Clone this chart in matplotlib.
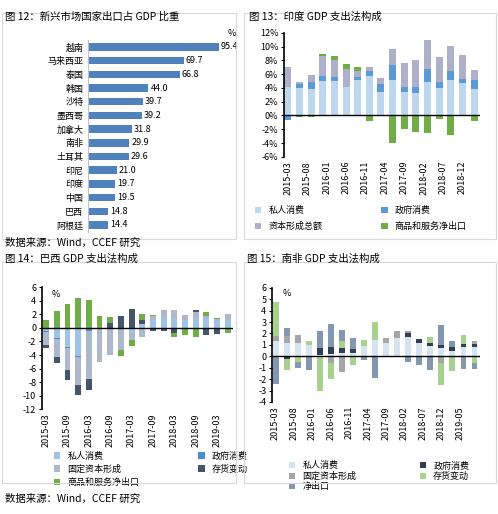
import numpy as np
import matplotlib.pyplot as plt
from matplotlib.patches import Rectangle

plt.rcParams['font.family'] = ['Noto Sans CJK SC', 'DejaVu Sans']
plt.rcParams['font.size'] = 6.5

# Figure 12 data
countries = ['越南', '马来西亚', '泰国', '韩国', '沙特', '墨西哥', '加拿大', '南非', '土耳其',
             '印尼', '印度', '中国', '巴西', '阿根廷']
export_share = [95.4, 69.7, 66.8, 44.0, 39.7, 39.2, 31.8, 29.9, 29.6, 21.0, 19.7, 19.5, 14.8, 14.4]

# India (quarterly, month index months on axis)
india_labels = ['2015-03', '2015-08', '2016-01', '2016-06', '2016-11', '2017-04',
                '2017-09', '2018-02', '2018-07', '2018-12']
india_pc = [4.2, 4.0, 3.9, 5.0, 5.0, 4.1, 5.2, 5.8, 3.4, 5.2, 3.4, 3.2, 4.9, 4.0, 5.2, 4.7, 3.9]
india_gov = [-0.6, 0.6, 1.0, 0.8, 0.6, 0.1, 0.4, 0.6, 1.2, 2.2, 0.8, 0.9, 1.8, 0.9, 1.2, 0.6, 1.3]
india_cap = [2.8, 0.3, 1.0, 2.8, 2.4, 2.6, 0.8, 0.6, 0.8, 2.2, 3.4, 3.9, 4.3, 3.6, 3.7, 3.5, 1.4]
india_ne = [0.0, -0.2, -0.2, 0.4, 0.6, 0.7, 0.6, -0.8, 0.0, -4.0, -2.0, -2.4, -2.6, -0.5, -2.8, -0.1, -0.8]

# Brazil (quarterly)
brazil_labels = ['2015-03', '2015-09', '2016-03', '2016-09', '2017-03', '2017-09',
                 '2018-03', '2018-09', '2019-03']
brazil_pc = [-0.5, -1.5, -2.8, -4.2, -0.2, -0.1, -0.2, -0.2, -0.8, 0.6, 1.2, 1.5, 1.5, 1.2, 1.5, 1.4, 1.0, 1.2]
brazil_gov = [-0.1, -0.1, -0.1, -0.1, -0.2, 0.0, 0.0, 0.0, 0.0, 0.0, 0.0, 0.0, 0.0, 0.0, 0.0, 0.0, 0.0, 0.0]
brazil_gfcf = [-1.9, -2.7, -3.3, -4.2, -7.2, -4.9, -3.8, -3.0, -1.0, -1.4, 0.5, 1.2, 1.1, 0.7, 0.8, 0.3, 0.3, 0.8]
brazil_inv = [-0.4, -0.9, -1.5, -1.4, -1.6, 0.0, 0.7, 1.8, 2.8, 0.6, -0.5, -0.4, -0.8, -0.1, 0.3, -1.1, -0.9, 0.0]
brazil_ne = [1.2, 2.5, 3.5, 4.4, 4.2, 1.8, 0.9, -1.0, -0.9, 0.9, 0.2, 0.0, -0.5, -1.0, -1.3, 0.6, 0.2, -0.8]

# South Africa (quarterly, month axis)
sa_labels = ['2015-03', '2015-08', '2016-01', '2016-06', '2016-11', '2017-04',
             '2017-09', '2018-02', '2018-07', '2018-12', '2019-05']
sa_pc = [1.3, 1.2, 1.2, 1.0, 0.1, 0.2, 0.3, 0.3, 0.9, 1.4, 1.2, 1.6, 1.7, 1.2, 0.9, 0.7, 0.5, 0.8, 0.8]
sa_gov = [-0.1, -0.2, 0.0, 0.0, 0.6, 0.6, 0.4, 0.3, 0.0, 0.0, 0.0, 0.0, 0.3, 0.3, 0.3, 0.3, 0.3, 0.3, 0.3]
sa_gfcf = [0.5, 0.6, 0.7, 0.0, 0.0, -0.6, -1.4, 0.0, 0.0, 0.0, 0.4, 0.6, 0.2, 0.0, 0.0, -0.6, 0.0, 0.0, 0.2]
sa_inv = [3.0, -1.0, -0.5, 0.3, -3.0, -1.4, 0.6, -0.8, 0.5, 1.6, -0.1, 0.0, 0.0, 0.0, 0.5, -1.9, -1.3, 0.8, -0.6]
sa_ne = [-2.3, 0.7, -0.5, -1.2, 1.5, 2.0, 1.0, 1.0, -0.3, -1.9, 0.0, 0.0, -0.5, -0.8, -1.2, 1.7, 0.5, -1.1, -0.5]


def stacked(ax, x, series, colors, labels, width):
    pos = np.zeros(len(x))
    neg = np.zeros(len(x))
    for vals, c, lab in zip(series, colors, labels):
        v = np.array(vals)
        base = np.where(v >= 0, pos, neg)
        ax.bar(x, v, width, bottom=base, color=c, label=lab)
        pos = pos + np.where(v >= 0, v, 0)
        neg = neg + np.where(v < 0, v, 0)


def style(ax, ylim, yticks, fmt, ticks, ticklabels, xlim):
    ax.set_ylim(*ylim)
    ax.set_xlim(*xlim)
    ax.set_yticks(yticks)
    ax.set_yticklabels([fmt(t) for t in yticks])
    ax.set_xticks(ticks)
    ax.set_xticklabels(ticklabels, rotation=90)
    ax.tick_params(axis='x', length=0, pad=3)
    ax.tick_params(axis='y', length=2, pad=2)
    for s in ['top', 'right', 'bottom']:
        ax.spines[s].set_visible(False)
    ax.spines['left'].set_linewidth(1.2)
    ax.axhline(0, color='black', lw=1)


def rowwise_legend(ax, anchor, colsp, lsp):
    h, l = ax.get_legend_handles_labels()
    order = list(range(0, len(h), 2)) + list(range(1, len(h), 2))
    ax.legend([h[i] for i in order], [l[i] for i in order], loc='upper left',
              bbox_to_anchor=anchor, ncol=2, frameon=False, handlelength=0.7,
              handleheight=0.7, columnspacing=colsp, fontsize=6.5, labelspacing=lsp,
              borderpad=0)


fig = plt.figure(figsize=(4.98, 5.14), dpi=100)

# panel frames
for (x0, y0, w, h) in [(0.004, 0.535, 0.47, 0.44), (0.49, 0.535, 0.505, 0.44),
                       (0.004, 0.06, 0.47, 0.43), (0.49, 0.06, 0.505, 0.43)]:
    fig.patches.append(Rectangle((x0, y0), w, h, transform=fig.transFigure,
                                 fill=False, ec='#d9d9d9', lw=0.8))

# Figure 12
ax1 = fig.add_axes([0.177, 0.549, 0.275, 0.373])
y = np.arange(len(countries))
ax1.barh(y, export_share, 0.55, color='#4f81bd')
for yi, v in zip(y, export_share):
    ax1.text(v + 1.5, yi, f'{v:.1f}', va='center', fontsize=6.5)
ax1.set_yticks(y)
ax1.set_yticklabels(countries)
ax1.set_xlim(0, 100)
ax1.set_ylim(len(countries) - 0.5, -0.5)
ax1.set_xticks([])
ax1.tick_params(axis='y', length=0)
for s in ['top', 'right', 'bottom']:
    ax1.spines[s].set_visible(False)
ax1.spines['left'].set_color('#bfbfbf')
ax1.text(1.02, 1.02, '%', transform=ax1.transAxes, fontsize=6.5)
fig.text(0.01, 0.968, '图 12：新兴市场国家出口占 GDP 比重', fontsize=7.5, va='center')
fig.text(0.01, 0.527, '数据来源：Wind，CCEF 研究', fontsize=7.5, va='center')

# Figure 13 India
ax2 = fig.add_axes([0.57, 0.695, 0.394, 0.241])
xi = np.arange(len(india_pc)) * 3
stacked(ax2, xi, [india_pc, india_gov, india_cap, india_ne],
        ['#bdd7ee', '#5b9bd5', '#adb0c8', '#70ad47'],
        ['私人消费', '政府消费', '资本形成总额', '商品和服务净出口'], 1.8)
style(ax2, (-6, 12), np.arange(-6, 13, 2), lambda t: f'{t}%',
      np.arange(len(india_labels)) * 5, india_labels, (-1, xi[-1] + 1.5))
rowwise_legend(ax2, (-0.17, -0.36), 6.5, 0.8)
fig.text(0.5, 0.968, '图 13：印度 GDP 支出法构成', fontsize=7.5, va='center')

# Figure 14 Brazil
ax3 = fig.add_axes([0.084, 0.204, 0.384, 0.237])
xb = np.arange(len(brazil_pc))
stacked(ax3, xb, [brazil_pc, brazil_gov, brazil_gfcf, brazil_inv, brazil_ne],
        ['#9dc3e6', '#4a8ccc', '#adb9ca', '#44546a', '#70ad47'],
        ['私人消费', '政府消费', '固定资本形成', '存货变动', '商品和服务净出口'], 0.55)
style(ax3, (-12, 6), np.arange(-12, 7, 2), lambda t: f'{t}',
      np.arange(len(brazil_labels)) * 2, brazil_labels, (-0.4, xb[-1] + 0.5))
ax3.text(0.05, 0.98, '%', transform=ax3.transAxes, fontsize=6.5, va='top')
rowwise_legend(ax3, (0.04, -0.31), 6.5, 0.45)
fig.text(0.01, 0.497, '图 14：巴西 GDP 支出法构成', fontsize=7.5, va='center')
fig.text(0.01, 0.03, '数据来源：Wind，CCEF 研究', fontsize=7.5, va='center')

# Figure 15 South Africa
ax4 = fig.add_axes([0.546, 0.218, 0.418, 0.222])
xs = np.arange(len(sa_pc)) * 3
stacked(ax4, xs, [sa_pc, sa_gov, sa_gfcf, sa_inv, sa_ne],
        ['#d6e4f0', '#333f50', '#a6a6a6', '#a9d18e', '#8497b0'],
        ['私人消费', '政府消费', '固定资本形成', '存货变动', '净出口'], 1.6)
style(ax4, (-4, 6), np.arange(-4, 7, 1), lambda t: f'{t}',
      np.arange(len(sa_labels)) * 5, sa_labels, (-1, xs[-1] + 1.5))
ax4.text(0.05, 0.99, '%', transform=ax4.transAxes, fontsize=6.5, va='top')
rowwise_legend(ax4, (0.06, -0.48), 7, 0.15)
fig.text(0.495, 0.497, '图 15：南非 GDP 支出法构成', fontsize=7.5, va='center')

fig.savefig('out.png', dpi=100)
